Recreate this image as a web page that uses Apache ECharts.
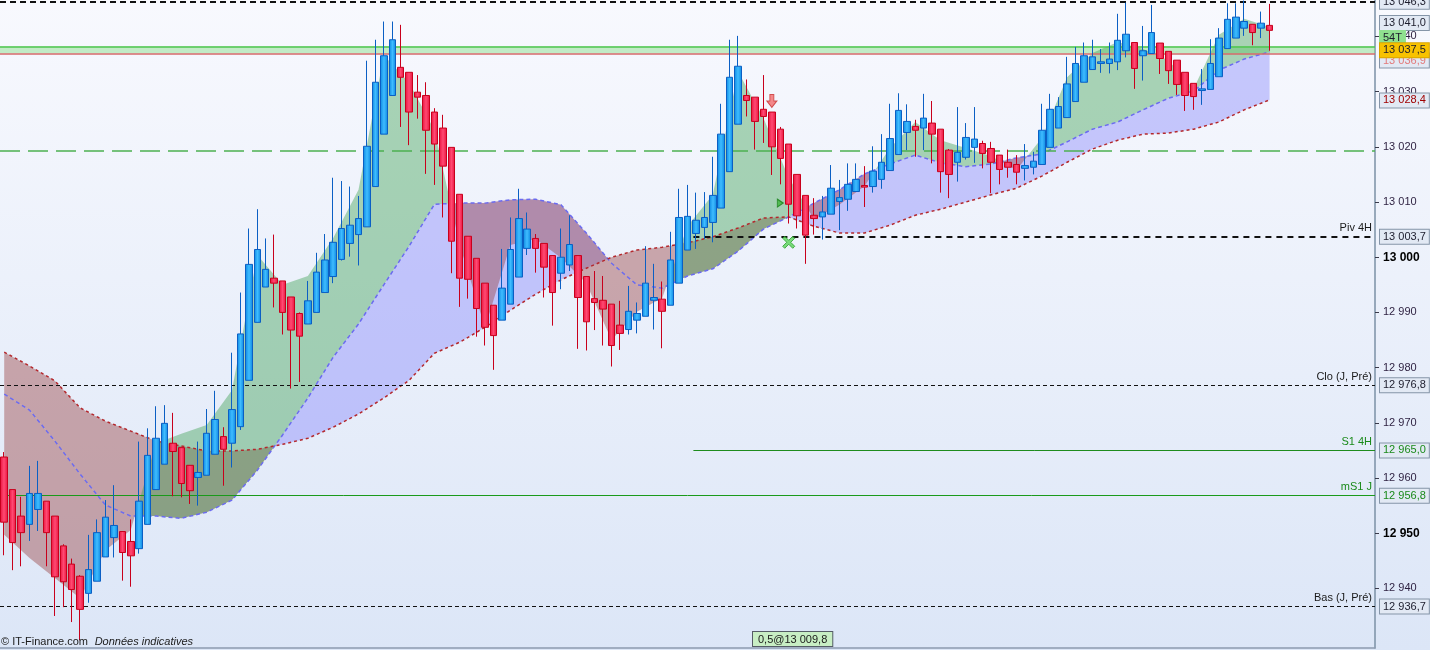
<!DOCTYPE html>
<html>
<head>
    <meta charset="utf-8">
    <script src="https://cdn.jsdelivr.net/npm/echarts@6/dist/echarts.min.js"></script>
    <style>
        html, body { margin: 0; padding: 0; }
        #main { width: 1430px; height: 650px; background: linear-gradient(#f8f9fe, #dce6f7); }
    </style>
</head>
<body>
    <div id="main"></div>

    <script type="text/javascript">
        // candles: [open, close, low, high]
        var candles = [
            [12963.8,12952.0,12946.0,12964.7],[12957.9,12948.3,12943.3,12957.9],[12953.1,12950.1,12944.0,12956.6],
            [12951.6,12957.2,12948.6,12962.2],[12954.3,12957.2,12950.4,12963.1],[12955.8,12950.1,12944.0,12955.8],
            [12953.1,12942.1,12935.0,12953.1],[12947.7,12941.2,12936.6,12948.0],[12944.4,12939.8,12933.9,12945.4],
            [12942.2,12936.2,12930.6,12942.4],[12939.1,12943.4,12937.4,12949.7],[12941.3,12950.1,12941.3,12952.5],
            [12945.7,12952.9,12945.7,12956.0],[12949.2,12951.4,12945.6,12958.7],[12950.3,12946.5,12941.4,12950.3],
            [12948.5,12945.9,12940.3,12952.5],[12947.2,12955.8,12946.3,12966.6],[12951.6,12964.1,12951.6,12969.0],
            [12957.9,12967.2,12957.9,12973.0],[12962.5,12969.9,12962.5,12973.2],[12966.3,12964.8,12956.7,12971.8],
            [12965.5,12959.0,12956.5,12965.5],[12962.3,12957.7,12955.3,12962.3],[12960.1,12961.0,12955.0,12966.6],
            [12960.5,12968.1,12960.5,12972.5],[12964.3,12970.6,12964.3,12975.8],[12967.5,12965.2,12958.6,12969.2],
            [12966.3,12972.4,12961.9,12982.7],[12969.3,12986.1,12968.7,12993.6],[12977.7,12998.7,12977.7,13005.2],
            [12988.2,13001.4,12988.2,13008.7],[12994.6,12997.8,12994.6,13003.4],[12996.2,12995.3,12990.9,13004.1],
            [12995.7,12990.0,12986.0,12995.7],[12992.8,12986.8,12976.2,12992.8],[12989.8,12985.7,12977.4,12990.0],
            [12987.9,12992.1,12987.9,12995.7],[12990.0,12997.3,12990.0,13000.8],[12993.6,12999.5,12993.6,13004.2],
            [12996.5,13002.7,12995.3,13014.4],[12999.6,13005.2,12999.4,13013.8],[13002.5,13005.8,13000.1,13012.8],
            [13004.1,13007.0,12998.5,13011.1],[13005.5,13020.1,13005.5,13035.6],[13012.8,13031.7,13012.8,13039.4],
            [13022.3,13036.5,13022.3,13042.7],[13029.3,13039.4,13029.3,13042.7],[13034.4,13032.6,13023.6,13042.1],
            [13033.5,13026.3,13020.3,13033.5],[13029.9,13029.0,13025.1,13033.0],[13029.3,13023.0,13015.1,13031.7],
            [13026.3,13020.5,13013.1,13027.0],[13023.4,13016.5,13007.2,13025.8],[13019.9,13002.9,12997.1,13019.9],
            [13011.4,12996.2,12991.0,13011.4],[13003.8,12996.0,12992.5,13003.8],[12999.8,12990.7,12985.6,12999.8],
            [12995.3,12987.3,12984.0,12995.3],[12991.3,12985.8,12979.6,12991.3],[12988.6,12994.4,12988.6,13001.5],
            [12991.5,13001.4,12991.5,13007.2],[12996.4,13007.0,12996.4,13012.4],[13001.6,13005.1,13000.4,13008.1],
            [13003.4,13001.6,12997.2,13004.2],[13002.5,12998.2,12992.7,13002.5],[13000.3,12993.6,12987.6,13000.3],
            [12997.1,13000.0,12994.2,13005.2],[12998.6,13002.3,12997.5,13007.6],[13000.3,12992.7,12983.4,13000.3],
            [12996.5,12988.3,12983.1,12996.5],[12992.5,12991.8,12986.8,12997.5],[12992.2,12990.6,12984.0,12996.6],
            [12991.5,12984.0,12980.2,12991.5],[12987.7,12986.2,12983.2,12992.1],[12986.9,12990.2,12986.0,12994.8],
            [12988.6,12989.8,12986.2,12991.8],[12989.3,12995.3,12989.3,13002.0],[12992.2,12992.7,12986.9,12998.8],
            [12992.4,12990.2,12983.5,12995.6],[12991.3,12999.5,12991.3,13004.6],[12995.3,13007.2,12995.3,13012.4],
            [13001.3,13007.4,13001.3,13013.1],[13004.3,13006.7,13001.5,13011.7],[13005.4,13007.2,13003.3,13011.8],
            [13006.3,13011.2,13002.7,13018.2],[13008.9,13022.3,13008.9,13027.8],[13015.5,13032.6,13015.5,13039.4],
            [13024.1,13034.6,13024.1,13040.1],[13029.3,13028.4,13025.5,13032.2],[13029.0,13024.6,13019.5,13029.0],
            [13026.8,13025.5,13020.7,13033.0],[13026.3,13020.0,13014.9,13026.3],[13023.2,13017.9,13013.2,13023.6],
            [13020.5,13009.6,13006.1,13020.5],[13015.0,13007.5,13005.2,13015.0],[13011.2,13004.0,12998.8,13011.2],
            [13007.6,13007.0,13004.1,13010.7],[13007.3,13008.2,13003.2,13011.1],[13007.8,13012.5,13007.8,13016.7],
            [13010.1,13010.8,13004.9,13014.0],[13010.5,13013.2,13008.4,13017.0],[13011.9,13014.1,13011.9,13017.0],
            [13013.0,13012.7,13009.1,13016.5],[13012.8,13015.6,13011.7,13020.1],[13014.1,13017.2,13012.4,13022.3],
            [13015.7,13021.5,13015.7,13027.8],[13018.6,13026.6,13018.6,13029.7],[13022.6,13024.6,13019.4,13027.7],
            [13023.7,13023.0,13018.2,13024.9],[13023.4,13025.2,13019.4,13029.6],[13024.3,13022.3,13017.0,13028.3],
            [13023.2,13015.5,13011.7,13023.2],[13019.4,13015.0,13010.7,13019.6],[13017.2,13019.0,13013.7,13027.2],
            [13018.1,13021.7,13017.7,13024.3],[13019.9,13021.4,13017.1,13027.2],[13020.6,13018.8,13016.1,13021.1],
            [13019.7,13017.2,13011.6,13020.9],[13018.5,13015.9,13013.2,13018.5],[13017.2,13016.3,13014.4,13019.5],
            [13016.8,13015.4,13013.2,13018.5],[13016.1,13016.6,13013.9,13020.5],[13016.3,13017.4,13015.0,13019.1],
            [13016.8,13023.0,13016.8,13027.8],[13019.9,13026.8,13019.9,13029.6],[13023.4,13027.3,13023.4,13029.0],
            [13025.3,13031.4,13025.3,13036.3],[13028.2,13035.1,13028.2,13038.1],[13031.7,13036.5,13031.7,13038.9],
            [13034.0,13036.3,13034.0,13039.4],[13035.1,13035.4,13033.4,13037.7],[13035.1,13035.9,13033.3,13038.9],
            [13035.4,13039.3,13033.9,13044.1],[13037.4,13040.4,13036.2,13046.1],[13038.9,13034.2,13030.5,13038.9],
            [13036.5,13037.4,13032.0,13041.9],[13036.9,13040.7,13036.9,13045.7],[13038.8,13036.0,13033.2,13038.8],
            [13037.3,13033.8,13031.4,13037.3],[13035.7,13031.3,13029.4,13035.7],[13033.5,13029.3,13026.5,13033.5],
            [13031.5,13029.1,13026.7,13031.5],[13030.2,13030.5,13027.6,13034.1],[13030.4,13035.1,13030.4,13039.5],
            [13032.7,13039.7,13032.7,13041.5],[13037.8,13043.1,13037.8,13046.0],[13039.7,13043.5,13039.7,13046.0],
            [13041.5,13042.7,13040.1,13046.5],[13042.2,13040.7,13038.4,13042.2],[13041.5,13042.4,13039.7,13044.5],
            [13042.0,13041.1,13037.4,13045.9]
        ];
        // number of time slots on the x axis (candles + empty space on the right)
        var slotCount = 163;

        // indicator lines, read every 3 candles
        var lineIdx = [0,3,6,9,12,15,18,21,24,27,30,33,36,39,42,45,48,51,54,57,60,63,66,69,72,75,78,81,84,87,
            90,93,96,99,102,105,108,111,114,117,120,123,126,129,132,135,138,141,144,147,150];
        var fastLine = [12949.7,12945.5,12941.9,12938.2,12946.9,12950.6,12966.3,12968.0,12969.6,12975.9,
            13000.4,12995.0,12996.6,13003.5,13012.2,13036.6,13031.6,13023.0,13002.2,12987.2,
            13002.2,13003.3,12999.9,12995.3,12985.0,12990.1,12992.6,13005.6,13011.3,13033.6,
            13025.2,13014.4,13006.9,13009.5,13012.9,13019.8,13024.5,13021.2,13019.8,13018.3,
            13015.8,13021.6,13032.6,13037.0,13039.0,13037.7,13035.7,13030.5,13040.3,13043.2,13041.7];
        var blueLine = [12975.2,12972.3,12966.7,12960.7,12955.1,12953.1,12953.1,12952.7,12953.8,12956.0,
            12961.4,12967.8,12974.5,12981.9,12987.9,12995.0,13002.0,13009.6,13009.8,13009.8,
            13010.4,13010.5,13009.5,13004.4,12998.9,12995.0,12994.4,12996.6,12997.9,13001.1,
            13005.1,13007.3,13009.8,13012.2,13015.1,13016.9,13018.5,13017.1,13016.4,13016.9,
            13018.0,13018.7,13020.9,13023.2,13024.5,13026.7,13028.8,13030.1,13033.9,13035.9,13037.2];
        var redLine = [12982.8,12980.3,12977.6,12972.7,12970.3,12968.5,12966.7,12965.8,12964.9,12964.9,
            12965.2,12966.1,12967.2,12969.2,12971.6,12974.5,12977.7,12982.6,12984.6,12987.3,
            12990.4,12993.3,12995.9,12998.0,13000.0,13001.3,13001.8,13002.6,13003.7,13005.3,
            13007.1,13007.3,13005.6,13004.4,13004.4,13005.8,13007.6,13008.7,13010.0,13011.3,
            13012.5,13014.7,13017.2,13019.6,13021.2,13022.3,13022.5,13023.2,13024.5,13026.7,13028.5];

        // horizontal levels
        var levelNames = ['', 'Piv 4H', 'Clo (J, Pré)', 'S1 4H', 'mS1 J', 'Bas (J, Pré)'];
        var levelValues = [13046.3, 13003.7, 12976.8, 12965.0, 12956.8, 12936.7];
        var levelFrom = [-0.5, 81.7, -0.5, 81.7, -0.5, -0.5];
        var zoneTop = 13038.2, zoneBottom = 13036.9;
        var midLevel = 13019.2;

        // other price tags on the right scale
        var tagValues = [13041.0, 13037.5, 13036.9, 13028.4];

        // signals
        var arrowDown = [[91, 13028.3]];
        var triangleRight = [[92, 13009.8]];
        var crossMark = [[93, 13002.7]];

        var yTicks = [12940, 12950, 12960, 12970, 12980, 12990, 13000, 13010, 13020, 13030, 13040];

        var slots = [];
        for (var i = 0; i < slotCount; i++) slots.push(String(i));

        function groupThousands(s) { return s.replace(/\B(?=(\d{3})+(?!\d))/g, ' '); }
        function fmtPrice(v) {
            var p = v.toFixed(1).split('.');
            return groupThousands(p[0]) + ',' + p[1];
        }

        // polygons between two lines, split where they cross
        function bandShapes(api, upper, lower, colPos, colNeg) {
            var out = [];
            var run = null, sign = 0;
            function finish(r, s) {
                var pts = r.top.concat(r.bot.slice().reverse()).map(function (p) { return api.coord(p); });
                out.push({ type: 'polygon', shape: { points: pts }, style: { fill: s > 0 ? colPos : colNeg } });
            }
            for (var i = 0; i < lineIdx.length; i++) {
                var d = upper[i] - lower[i];
                var s = d >= 0 ? 1 : -1;
                if (run && s !== sign) {
                    var dp = upper[i - 1] - lower[i - 1];
                    var t = dp / (dp - d);
                    var cx = lineIdx[i - 1] + t * (lineIdx[i] - lineIdx[i - 1]);
                    var cy = upper[i - 1] + t * (upper[i] - upper[i - 1]);
                    run.top.push([cx, cy]);
                    run.bot.push([cx, cy]);
                    finish(run, sign);
                    run = { top: [[cx, cy]], bot: [[cx, cy]] };
                }
                if (!run) run = { top: [], bot: [] };
                run.top.push([lineIdx[i], upper[i]]);
                run.bot.push([lineIdx[i], lower[i]]);
                sign = s;
            }
            finish(run, sign);
            return out;
        }

        function pairs(values) {
            return values.map(function (v, k) { return [lineIdx[k], v]; });
        }

        var boxLabel = {
            show: true, position: 'end', distance: 5,
            fontFamily: 'Liberation Sans', fontSize: 11, color: '#1c1c2c',
            backgroundColor: '#e2e9f4', borderColor: '#8595a8', borderWidth: 1,
            padding: [2, 3, 1, 3]
        };
        function tagItem(v, text, extra) {
            var label = Object.assign({}, boxLabel, { formatter: text }, extra || {});
            return [{ coord: [slotCount - 1.5, v], lineStyle: { color: 'rgba(0,0,0,0)', width: 0 }, label: label },
                    { coord: [slotCount - 0.5, v] }];
        }

        var levelStyles = [
            { color: '#111', width: 2, type: [6, 4] },
            { color: '#111', width: 2, type: [6, 5] },
            { color: '#111', width: 1, type: [4, 3] },
            { color: '#1e8c1e', width: 1, type: 'solid' },
            { color: '#1a9a1a', width: 1, type: 'solid' },
            { color: '#111', width: 1, type: [4, 3] }
        ];
        var greenText = [false, false, false, true, true, false];

        var lines = [];
        levelValues.forEach(function (v, k) {
            lines.push([{
                coord: [levelFrom[k], v], lineStyle: levelStyles[k],
                label: {
                    show: levelNames[k] !== '', position: 'insideEndTop', distance: 3,
                    formatter: levelNames[k], fontFamily: 'Liberation Sans', fontSize: 11,
                    color: greenText[k] ? '#1a8a1a' : '#1a1a1a'
                }
            }, { coord: [slotCount - 0.5, v] }]);
        });
        lines.push([{ coord: [-0.5, midLevel], lineStyle: { color: '#4cb050', width: 1.5, type: [20, 8] }, label: { show: false } },
                    { coord: [slotCount - 0.5, midLevel] }]);
        lines.push([{ coord: [-0.5, zoneTop], lineStyle: { color: '#4fc64f', width: 1.5, type: 'solid' }, label: { show: false } },
                    { coord: [slotCount - 0.5, zoneTop] }]);
        lines.push([{ coord: [-0.5, zoneBottom], lineStyle: { color: '#d46a6a', width: 1.5, type: 'solid' }, label: { show: false } },
                    { coord: [slotCount - 0.5, zoneBottom] }]);

        // value boxes on the right scale, nudged apart like the platform does
        var tags = [];
        levelValues.forEach(function (v, k) {
            tags.push(tagItem(v, fmtPrice(v), greenText[k] ? { color: '#1a8a1a' } : {}));
        });
        tags.push(tagItem(tagValues[0], fmtPrice(tagValues[0]), { offset: [0, -8] }));
        tags.push(tagItem(tagValues[0], '54T', { offset: [0, 7], backgroundColor: '#8fe08f', borderColor: '#8fe08f', padding: [2, 3, 1, 3] }));
        tags.push(tagItem(tagValues[2], fmtPrice(tagValues[2]), { offset: [0, 7], color: '#e27a7a' }));
        tags.push(tagItem(tagValues[1], fmtPrice(tagValues[1]), { backgroundColor: '#f8c200', borderColor: '#d9a400' }));
        tags.push(tagItem(tagValues[3], fmtPrice(tagValues[3]), { color: '#a00000' }));

        var upFill = new echarts.graphic.LinearGradient(0, 0, 1, 0, [
            { offset: 0, color: '#0b86e0' }, { offset: 0.5, color: '#3fbcff' }, { offset: 1, color: '#0b86e0' }]);
        var downFill = new echarts.graphic.LinearGradient(0, 0, 1, 0, [
            { offset: 0, color: '#e8103c' }, { offset: 0.5, color: '#ff4a72' }, { offset: 1, color: '#e8103c' }]);

        var myChart = echarts.init(document.getElementById('main'));
        var option = {
            animation: false,
            backgroundColor: 'transparent',
            grid: { left: -2, right: 55, top: 0, bottom: 2 },
            xAxis: [{
                type: 'category', data: slots, boundaryGap: true,
                axisLabel: { show: false }, axisTick: { show: false },
                axisLine: { show: true, lineStyle: { color: '#8c9bb0', width: 1.5 } },
                splitLine: { show: false }
            }, {
                type: 'value', min: -0.5, max: slotCount - 0.5, show: false
            }],
            yAxis: {
                type: 'value', position: 'right', min: 12929.2, max: 13046.6, scale: true,
                splitLine: { show: false },
                axisLine: { show: true, onZero: false, lineStyle: { color: '#7b90a6', width: 1.5 } },
                axisTick: { show: true, length: 4, customValues: yTicks, lineStyle: { color: '#3a3a4a' } },
                axisLabel: {
                    customValues: yTicks, margin: 8, fontFamily: 'Liberation Sans', fontSize: 11, color: '#2c1f3f',
                    formatter: function (v) {
                        var t = groupThousands(String(v));
                        return v % 50 === 0 ? '{b|' + t + '}' : t;
                    },
                    rich: { b: { fontFamily: 'Liberation Sans', fontWeight: 'bold', fontSize: 12, color: '#000' } }
                }
            },
            graphic: [{
                type: 'text', left: 1, bottom: 2, z: 100,
                style: {
                    text: '{a|© IT-Finance.com}  {b|Données indicatives}',
                    rich: {
                        a: { fontFamily: 'Liberation Sans', fontSize: 11, fill: '#1a1a1a' },
                        b: { fontFamily: 'Liberation Sans', fontSize: 11, fontStyle: 'italic', fill: '#1a1a1a' }
                    }
                }
            }, {
                type: 'text', left: 752, top: 631, z: 100,
                style: {
                    text: '0,5@13 009,8', fontFamily: 'Liberation Sans', fontSize: 11, fill: '#1a1a1a',
                    backgroundColor: '#c8eec4', borderColor: '#555c66', borderWidth: 1, padding: [2, 5, 1, 5]
                }
            }],
            series: [{
                name: 'bands', type: 'custom', xAxisIndex: 1, yAxisIndex: 0, z: 1, silent: true, clip: true,
                data: [[0, 13000]], encode: { x: 0, y: 1 },
                renderItem: function (params, api) {
                    if (params.dataIndex !== 0) return;
                    var slow = bandShapes(api, blueLine, redLine, 'rgba(140,140,250,0.45)', 'rgba(150,60,60,0.42)');
                    var fast = bandShapes(api, fastLine, blueLine, 'rgba(60,160,80,0.42)', 'rgba(150,60,60,0.42)');
                    return { type: 'group', children: slow.concat(fast) };
                }
            }, {
                name: 'medium', type: 'line', xAxisIndex: 1, z: 2, silent: true,
                data: pairs(blueLine), showSymbol: false,
                lineStyle: { color: '#6b6bf0', width: 1.5, type: [4, 3] },
                markArea: {
                    silent: true,
                    itemStyle: { color: 'rgba(130,220,130,0.45)' },
                    data: [[{ coord: [-0.5, zoneTop] }, { coord: [slotCount - 0.5, zoneBottom] }]]
                },
                markLine: { silent: true, symbol: ['none', 'none'], animation: false, data: lines }
            }, {
                name: 'slow', type: 'line', xAxisIndex: 1, z: 2, silent: true,
                data: pairs(redLine), showSymbol: false,
                lineStyle: { color: '#b4282d', width: 1.5, type: [3, 3] }
            }, {
                name: 'tags', type: 'line', xAxisIndex: 1, z: 8, silent: true, clip: false,
                data: [], showSymbol: false,
                markLine: { silent: true, symbol: ['none', 'none'], animation: false, data: tags }
            }, {
                name: 'price', type: 'candlestick', z: 5, barWidth: 7,
                data: candles,
                itemStyle: {
                    color: upFill, color0: downFill,
                    borderColor: '#0b5fc4', borderColor0: '#c8001c', borderWidth: 1
                }
            }, {
                type: 'scatter', z: 6, silent: true, data: arrowDown,
                symbol: 'path://M3,0L7,0L7,6L10,6L5,12L0,6L3,6Z', symbolSize: [10, 13],
                itemStyle: { color: '#f26d6d', borderColor: '#c83232', borderWidth: 1 }
            }, {
                type: 'scatter', z: 6, silent: true, data: triangleRight,
                symbol: 'path://M0,0L7,4L0,8Z', symbolSize: [6, 8],
                itemStyle: { color: '#3cb43c', borderColor: '#1a801a', borderWidth: 1 }
            }, {
                type: 'scatter', z: 6, silent: true, data: crossMark,
                symbol: 'path://M2,0L6,4L10,0L12,2L8,6L12,10L10,12L6,8L2,12L0,10L4,6L0,2Z', symbolSize: [12, 12],
                itemStyle: { color: '#5ad25a', borderColor: '#28a028', borderWidth: 1 }
            }]
        };

        myChart.setOption(option);
    </script>
</body>
</html>
